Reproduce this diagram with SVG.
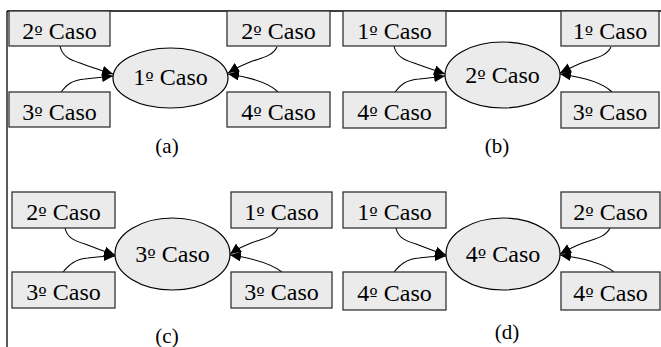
<svg xmlns="http://www.w3.org/2000/svg" width="661" height="347" viewBox="0 0 661 347">
<style>
.box{fill:#ebebeb;stroke:#333;stroke-width:1.3}
.ell{fill:#ebebeb;stroke:#000;stroke-width:1.2}
.t{font-family:"Liberation Serif","Times New Roman",serif;font-size:24px;fill:#000;text-anchor:middle}
.o{font-family:"DejaVu Serif",serif;font-size:18px}
.cap{font-family:"Liberation Serif","Times New Roman",serif;font-size:21px;fill:#000;text-anchor:middle}
.edge{fill:none;stroke:#000;stroke-width:1.1;marker-end:url(#ah)}
.frame{stroke:#000;stroke-width:1.3;fill:none}
</style>
<defs>
<marker id="ah" markerUnits="userSpaceOnUse" markerWidth="12" markerHeight="11" refX="11" refY="5" orient="auto">
<path d="M0,0 L11,5 L0,10 z" fill="#000"/>
</marker>
</defs>
<rect width="661" height="347" fill="#fff"/>
<path class="frame" d="M7,11 H661 M7,11 V347"/>

<g id="panel-a">
<g id="a-edges">
<path class="edge" d="M60,46 C62,56 70,60 80,63 C90,67 100,70 113,74"/>
<path class="edge" d="M61,92 C66,85 72,80 85,79 C95,78 103,77 113,76"/>
<path class="edge" d="M277,47 C272,57 260,58 250,62 C242,65 236,68 228,73"/>
<path class="edge" d="M278,92 C270,84 255,78 228,74"/>
</g>
<g id="a-tl"><rect class="box" x="9" y="11" width="101" height="35"/><text class="t" x="59.5" y="39">2<tspan class="o">º</tspan> Caso</text></g>
<g id="a-bl"><rect class="box" x="9" y="92" width="101" height="35"/><text class="t" x="59.5" y="120">3<tspan class="o">º</tspan> Caso</text></g>
<g id="a-c"><ellipse class="ell" cx="170.5" cy="78" rx="57.5" ry="30"/><text class="t" x="170.5" y="85">1<tspan class="o">º</tspan> Caso</text></g>
<g id="a-tr"><rect class="box" x="227" y="11" width="103" height="35"/><text class="t" x="278.5" y="39">2<tspan class="o">º</tspan> Caso</text></g>
<g id="a-br"><rect class="box" x="227" y="92" width="103" height="35"/><text class="t" x="278.5" y="120">4<tspan class="o">º</tspan> Caso</text></g>
<text class="cap" x="167" y="153">(a)</text>
</g>

<g id="panel-b" transform="translate(334,0)">
<g id="b-edges">
<path class="edge" d="M60,46 C62,56 70,60 80,63 C90,67 100,70 111,74"/>
<path class="edge" d="M61,92 C66,85 72,80 85,79 C95,78 103,77 111,76"/>
<path class="edge" d="M277,47 C272,57 260,58 250,62 C242,65 236,68 226,73"/>
<path class="edge" d="M278,92 C270,84 255,78 226,74"/>
</g>
<g id="b-tl"><rect class="box" x="9" y="11" width="103" height="35"/><text class="t" x="60.5" y="39">1<tspan class="o">º</tspan> Caso</text></g>
<g id="b-bl"><rect class="box" x="9" y="92" width="103" height="36"/><text class="t" x="60.5" y="120">4<tspan class="o">º</tspan> Caso</text></g>
<g id="b-c"><ellipse class="ell" cx="168.5" cy="75" rx="57.5" ry="33"/><text class="t" x="168.5" y="83">2<tspan class="o">º</tspan> Caso</text></g>
<g id="b-tr"><rect class="box" x="227" y="11" width="98" height="35"/><text class="t" x="276" y="39">1<tspan class="o">º</tspan> Caso</text></g>
<g id="b-br"><rect class="box" x="227" y="92" width="98" height="36"/><text class="t" x="276" y="120">3<tspan class="o">º</tspan> Caso</text></g>
<text class="cap" x="163" y="153">(b)</text>
</g>

<g id="panel-c" transform="translate(3,181)">
<g id="c-edges">
<path class="edge" d="M62,47 C64,57 72,60 82,63 C92,67 100,70 112,74"/>
<path class="edge" d="M60,91 C66,84 72,78 85,77 C95,76 103,75 112,75"/>
<path class="edge" d="M275,47 C270,57 258,58 248,62 C240,65 234,68 227,73"/>
<path class="edge" d="M279,91 C270,84 255,78 227,74"/>
</g>
<g id="c-tl"><rect class="box" x="9" y="11" width="103" height="36"/><text class="t" x="60.5" y="39">2<tspan class="o">º</tspan> Caso</text></g>
<g id="c-bl"><rect class="box" x="9" y="91" width="103" height="36"/><text class="t" x="60.5" y="119">3<tspan class="o">º</tspan> Caso</text></g>
<g id="c-c"><ellipse class="ell" cx="169.5" cy="73" rx="57.5" ry="36"/><text class="t" x="169.5" y="81">3<tspan class="o">º</tspan> Caso</text></g>
<g id="c-tr"><rect class="box" x="228" y="11" width="101" height="36"/><text class="t" x="278.5" y="39">1<tspan class="o">º</tspan> Caso</text></g>
<g id="c-br"><rect class="box" x="228" y="91" width="101" height="36"/><text class="t" x="278.5" y="119">3<tspan class="o">º</tspan> Caso</text></g>
<text class="cap" x="164" y="162">(c)</text>
</g>

<g id="panel-d" transform="translate(334,181)">
<g id="d-edges">
<path class="edge" d="M62,47 C64,57 72,60 82,63 C92,67 100,70 112,74"/>
<path class="edge" d="M60,91 C66,84 72,78 85,77 C95,76 103,75 112,75"/>
<path class="edge" d="M276,47 C271,57 259,58 249,62 C241,65 235,68 226,73"/>
<path class="edge" d="M280,91 C271,84 256,78 226,74"/>
</g>
<g id="d-tl"><rect class="box" x="9" y="11" width="103" height="36"/><text class="t" x="60.5" y="39">1<tspan class="o">º</tspan> Caso</text></g>
<g id="d-bl"><rect class="box" x="9" y="91" width="103" height="38"/><text class="t" x="60.5" y="120">4<tspan class="o">º</tspan> Caso</text></g>
<g id="d-c"><ellipse class="ell" cx="169" cy="73" rx="57" ry="36"/><text class="t" x="169" y="81">4<tspan class="o">º</tspan> Caso</text></g>
<g id="d-tr"><rect class="box" x="227" y="11" width="99" height="36"/><text class="t" x="276.5" y="39">2<tspan class="o">º</tspan> Caso</text></g>
<g id="d-br"><rect class="box" x="227" y="91" width="99" height="38"/><text class="t" x="276.5" y="120">4<tspan class="o">º</tspan> Caso</text></g>
<text class="cap" x="173" y="158">(d)</text>
</g>
</svg>
